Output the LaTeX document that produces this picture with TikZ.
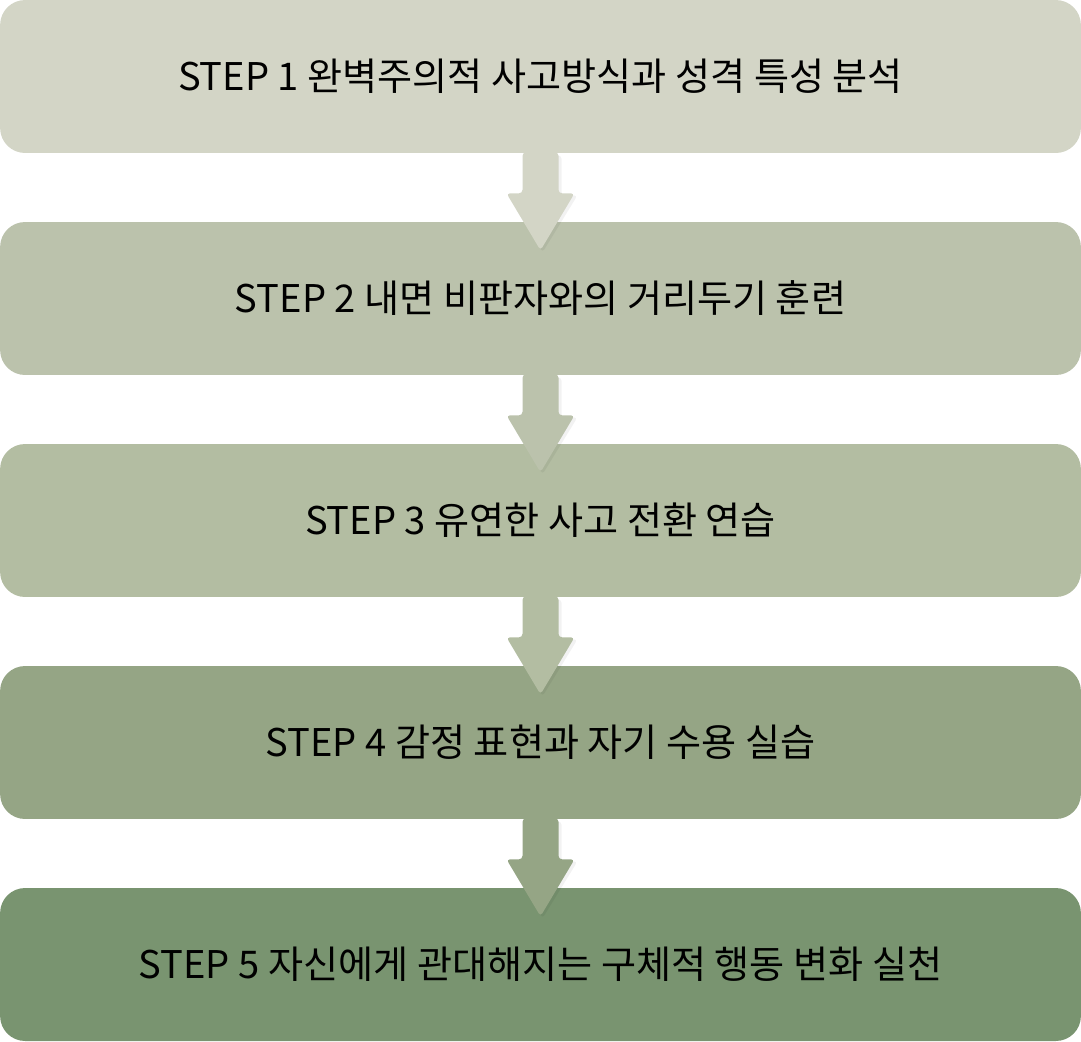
\documentclass[tikz,border=0pt]{standalone}
\usepackage{fontspec}
\setmainfont{Noto Sans CJK KR}
\usepackage{tikz}
\usetikzlibrary{
  arrows.meta,
  positioning,
  calc
}
\usepackage{xcolor}
\definecolor{stepone}{HTML}{D3D5C6}
\definecolor{steptwo}{HTML}{BBC2AC}
\definecolor{stepthree}{HTML}{B3BDA2}
\definecolor{stepfour}{HTML}{95A585}
\definecolor{stepfive}{HTML}{799470}

\begin{document}
\begin{tikzpicture}[
  x=0.02cm, y=0.02cm,
  every node/.style={font=\fontsize{21.7}{26}\selectfont},
  stepbox/.style={rounded corners=0.5cm, minimum width=21.62cm,
                  minimum height=3.06cm, inner sep=0pt, align=center},
  flowarrow/.style={rounded corners=2pt}
]

\useasboundingbox (0,0) rectangle (1081,-1041);

\node[stepbox, fill=stepone]   (s1) at (540.5, -76.5)
  {STEP 1 완벽주의적 사고방식과 성격 특성 분석};
\node[stepbox, fill=steptwo]   (s2) at (540.5, -298.5)
  {STEP 2 내면 비판자와의 거리두기 훈련};
\node[stepbox, fill=stepthree] (s3) at (540.5, -520.5)
  {STEP 3 유연한 사고 전환 연습};
\node[stepbox, fill=stepfour]  (s4) at (540.5, -742.5)
  {STEP 4 감정 표현과 자기 수용 실습};
\node[stepbox, fill=stepfive]  (s5) at (540.5, -964.5)
  {STEP 5 자신에게 관대해지는 구체적 행동 변화 실천};

% Arrows
\foreach \a/\c in {s1/stepone, s2/steptwo, s3/stepthree, s4/stepfour}{
  \fill[black, opacity=0.05, flowarrow]
    ($(\a.south)+(-16,-2)$) -- ($(\a.south)+(-16,-42)$) -- ($(\a.south)+(-32,-42)$)
    -- ($(\a.south)+(2,-99)$) -- ($(\a.south)+(37,-42)$) -- ($(\a.south)+(21,-42)$)
    -- ($(\a.south)+(21,-2)$) -- cycle;
  \fill[\c, flowarrow]
    ($(\a.south)+(-18,1)$) -- ($(\a.south)+(-18,-40)$) -- ($(\a.south)+(-34,-40)$)
    -- ($(\a.south)+(0,-97)$) -- ($(\a.south)+(34,-40)$) -- ($(\a.south)+(18,-40)$)
    -- ($(\a.south)+(18,1)$) -- cycle;
}

\end{tikzpicture}
\end{document}
